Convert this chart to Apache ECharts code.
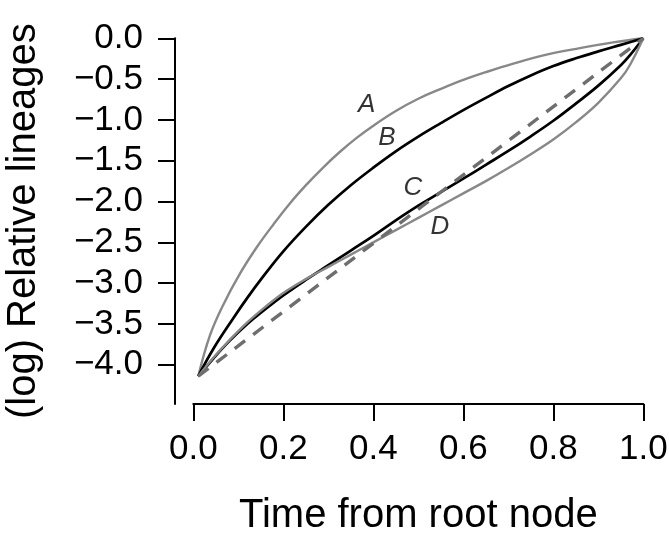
<!DOCTYPE html>
<html>
<head>
<meta charset="utf-8">
<title>Relative lineages</title>
<script src="https://cdn.jsdelivr.net/npm/echarts@6/dist/echarts.min.js"></script>
<style>
  html, body { margin: 0; padding: 0; background: #fff; }
  #main { width: 669px; height: 538px; }
</style>
</head>
<body>
<div id="main"></div>
<script>
// values, [time, log relative lineages]
const xTicks = [0, 0.2, 0.4, 0.6, 0.8, 1.0];
const yTicks = [-4, -3.5, -3, -2.5, -2, -1.5, -1, -0.5, 0];

const curveA = [[0.011,-4.14],[0.037,-3.64],[0.067,-3.26],[0.104,-2.88],[0.141,-2.56],[0.178,-2.28],
  [0.215,-2.02],[0.252,-1.79],[0.289,-1.58],[0.326,-1.39],[0.363,-1.22],[0.4,-1.07],[0.45,-0.89],
  [0.5,-0.74],[0.55,-0.62],[0.6,-0.51],[0.65,-0.415],[0.711,-0.31],[0.785,-0.2],[0.859,-0.12],
  [0.933,-0.05],[1.0,0]];
const curveB = [[0.011,-4.14],[0.045,-3.8],[0.09,-3.42],[0.12,-3.18],[0.155,-2.92],[0.2,-2.61],[0.25,-2.31],
  [0.3,-2.04],[0.35,-1.8],[0.4,-1.585],[0.45,-1.385],[0.5,-1.205],[0.55,-1.04],[0.6,-0.88],[0.65,-0.73],
  [0.7,-0.585],[0.75,-0.455],[0.8,-0.34],[0.85,-0.245],[0.9,-0.16],[0.95,-0.08],[1.0,0]];
const curveC = [[0.011,-4.14],[0.045,-3.92],[0.08,-3.71],[0.12,-3.5],[0.16,-3.32],[0.2,-3.15],[0.25,-2.96],
  [0.3,-2.78],[0.35,-2.6],[0.4,-2.42],[0.45,-2.23],[0.5,-2.05],[0.55,-1.885],[0.6,-1.72],[0.65,-1.55],
  [0.7,-1.38],[0.75,-1.2],[0.8,-1.01],[0.85,-0.8],[0.9,-0.58],[0.95,-0.33],[0.97,-0.21],[1.0,0]];
const curveD = [[0.011,-4.14],[0.045,-3.91],[0.08,-3.7],[0.12,-3.48],[0.16,-3.29],[0.2,-3.12],[0.25,-2.95],
  [0.3,-2.8],[0.35,-2.65],[0.4,-2.5],[0.45,-2.35],[0.5,-2.2],[0.55,-2.05],[0.6,-1.9],[0.65,-1.75],
  [0.7,-1.59],[0.75,-1.42],[0.8,-1.24],[0.85,-1.03],[0.9,-0.79],[0.95,-0.49],[0.97,-0.33],[1.0,0]];
const straight = [[0.011,-4.14],[1.0,0]];

const curveLabels = [[0.385,-0.817,'A'],[0.43,-1.213,'B'],[0.488,-1.837,'C'],[0.548,-2.314,'D']];

const FONT = '"Liberation Sans", Arial, Helvetica, sans-serif';
const fmt = (v) => (v < 0 ? '\u2212' : '') + Math.abs(v).toFixed(1);

const lineSeries = (data, color, width, type) => ({
  type: 'line',
  data: data,
  smooth: 0.4,
  showSymbol: false,
  symbol: 'none',
  lineStyle: { color: color, width: width, type: type || 'solid', cap: 'butt' },
  z: 2
});

const chart = echarts.init(document.getElementById('main'));
chart.setOption({
  animation: false,
  backgroundColor: '#fff',
  grid: { left: 193.3, right: 25.7, top: 38.3, bottom: 134, outerBoundsMode: 'none', containLabel: false },
  xAxis: {
    type: 'value',
    min: 0,
    max: 1,
    interval: 0.2,
    splitLine: { show: false },
    axisLine: { show: true, onZero: false, lineStyle: { color: '#000', width: 2 } },
    axisTick: { show: true, length: 17, lineStyle: { color: '#000', width: 2 } },
    axisLabel: {
      margin: 28, fontSize: 35, color: '#000', fontFamily: FONT,
      formatter: (v) => v.toFixed(1)
    },
    name: 'Time from root node',
    nameLocation: 'middle',
    nameGap: 92,
    nameTextStyle: { fontSize: 40, color: '#000', fontFamily: FONT, lineHeight: 40 }
  },
  yAxis: {
    type: 'value',
    min: -4.48,
    max: 0,
    offset: 18.3,
    splitLine: { show: false },
    axisLine: { show: true, onZero: false, lineStyle: { color: '#000', width: 2 } },
    axisTick: { show: true, length: 17, customValues: yTicks, lineStyle: { color: '#000', width: 2 } },
    axisLabel: {
      margin: 32, fontSize: 35, color: '#000', fontFamily: FONT,
      customValues: yTicks, formatter: fmt
    },
    name: '(log) Relative lineages',
    nameLocation: 'middle',
    nameGap: 131,
    nameTextStyle: { fontSize: 40, color: '#000', fontFamily: FONT, lineHeight: 40 }
  },
  series: [
    lineSeries(curveA, '#888888', 2.4),
    lineSeries(curveB, '#000000', 2.7),
    lineSeries(curveC, '#000000', 2.7),
    lineSeries(curveD, '#888888', 2.4),
    lineSeries(straight, '#6e6e6e', 3.4, [13, 10]),
    {
      type: 'scatter',
      data: curveLabels,
      symbolSize: 0,
      silent: true,
      label: {
        show: true,
        position: 'inside',
        formatter: (p) => p.data[2],
        fontSize: 26,
        fontStyle: 'italic',
        color: '#000',
        fontFamily: FONT
      },
      z: 5
    }
  ]
});
</script>
</body>
</html>
